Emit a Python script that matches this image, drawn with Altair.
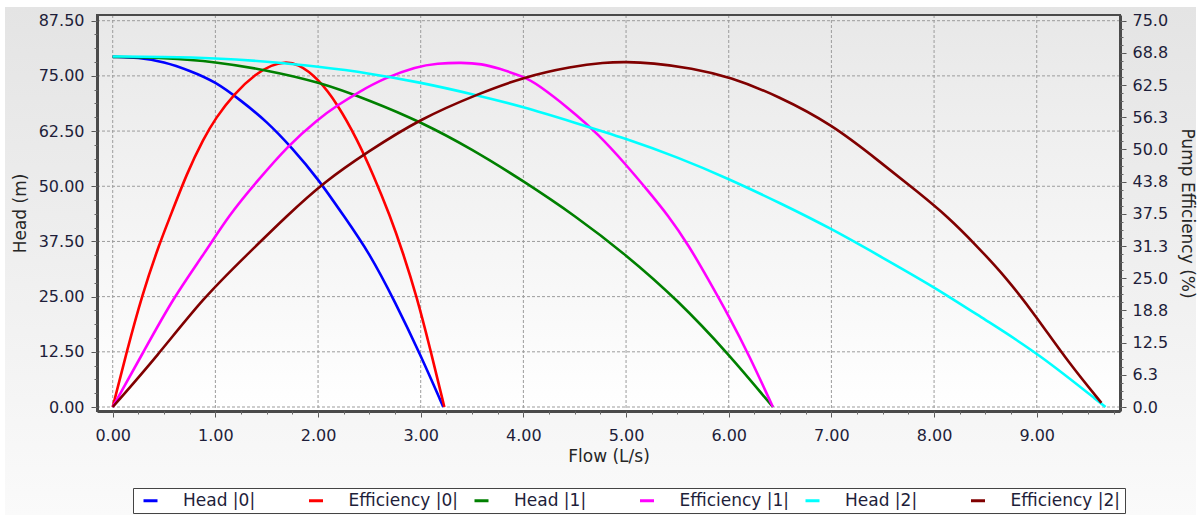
import altair as alt
import pandas as pd

# ---------------- data ----------------
series_names = ["Head |0|", "Efficiency |0|", "Head |1|", "Efficiency |1|", "Head |2|", "Efficiency |2|"]
series_colors = ["#0000ff", "#ff0000", "#008000", "#ff00ff", "#00ffff", "#800000"]

head0_q = [0, 0.25, 0.5, 0.75, 1.0, 1.25, 1.5, 1.75, 2.0, 2.25, 2.5, 2.75, 3.0, 3.22]
head0_h = [79.3, 79.2, 78.2, 76.2, 73.7, 69.4, 64.7, 58.6, 51.7, 43.3, 34.9, 23.8, 11.7, 0.0]

eff0_q = [0, 0.14, 0.285, 0.46, 0.565, 0.72, 0.89, 1.0, 1.18, 1.4, 1.55, 1.67, 1.8, 2.0,
          2.19, 2.38, 2.54, 2.70, 2.83, 2.96, 3.09, 3.23]
eff0_e = [0.0, 11.0, 21.7, 32.0, 37.2, 45.3, 52.3, 56.0, 60.8, 64.8, 66.4, 67.0, 66.7, 63.8,
          58.8, 52.0, 45.0, 37.2, 29.8, 21.5, 11.5, 0.0]

head1_q = [0, 0.5, 1.0, 1.5, 2.0, 2.5, 3.0, 3.5, 4.0, 4.5, 5.0, 5.5, 6.0, 6.43]
head1_h = [79.3, 79.1, 78.2, 76.3, 73.7, 69.5, 64.6, 58.4, 51.2, 43.4, 34.5, 24.3, 12.0, 0.0]

eff1_q = [0, 0.3, 0.59, 0.9, 1.13, 1.4, 1.71, 2.0, 2.19, 2.4, 2.64, 2.96, 3.16, 3.4, 3.6, 3.75,
          4.01, 4.14, 4.43, 4.73, 5.01, 5.2, 5.41, 5.61, 5.8, 6.0, 6.2, 6.43]
eff1_e = [0.0, 10.7, 21.2, 30.0, 37.2, 43.7, 50.8, 55.9, 58.6, 61.2, 63.8, 66.1, 66.7, 66.9, 66.6, 65.8,
          64.1, 62.6, 58.2, 53.0, 46.8, 42.3, 37.2, 31.4, 24.8, 17.7, 10.0, 0.0]

head2_q = [0, 0.5, 1.0, 1.5, 2.0, 2.5, 3.0, 3.5, 4.0, 4.5, 5.0, 5.5, 6.0, 6.5, 7.0, 7.5, 8.0, 8.5, 9.0, 9.67]
head2_h = [79.4, 79.3, 79.0, 78.3, 77.1, 75.6, 73.5, 70.9, 68.0, 64.4, 60.8, 56.6, 51.7, 46.2, 40.4, 33.8,
           27.2, 19.7, 12.4, 0.0]

eff2_q = [0, 0.43, 0.886, 1.3, 1.70, 2.06, 2.48, 3.0, 3.56, 4.01, 4.47, 4.79, 5.0, 5.25, 5.64, 6.01,
          6.48, 7.01, 7.46, 7.85, 8.13, 8.41, 8.7, 8.99, 9.31, 9.63]
eff2_e = [0.0, 9.8, 21.3, 29.4, 37.2, 43.7, 49.5, 56.0, 60.8, 64.1, 66.1, 66.9, 67.0, 66.8, 65.8, 64.1,
          60.4, 54.8, 47.8, 41.6, 37.0, 31.4, 25.2, 17.7, 8.6, 0.8]

# axis ticks
x_major = [0, 1, 2, 3, 4, 5, 6, 7, 8, 9]
x_minor = [k * 0.25 for k in range(40)]
head_major = [0, 12.5, 25, 37.5, 50, 62.5, 75, 87.5]
head_minor = [k * 3.125 for k in range(29)]
eff_major = [k * 6.25 for k in range(13)]
eff_minor = [k * 1.5625 for k in range(49)]

# ---------------- layout / style ----------------
W, H = 1023, 396
X_DOMAIN = [-0.153, 9.811]
H_DOMAIN = [-0.906, 88.79]
E_DOMAIN = [v * 75 / 87.5 for v in H_DOMAIN]
FONT = "DejaVu Sans"
LABEL_COLOR = "#1e1e3a"
TITLE_COLOR = "#262626"

series_data = [
    (series_names[0], head0_q, head0_h, "head"),
    (series_names[1], eff0_q, eff0_e, "eff"),
    (series_names[2], head1_q, head1_h, "head"),
    (series_names[3], eff1_q, eff1_e, "eff"),
    (series_names[4], head2_q, head2_h, "head"),
    (series_names[5], eff2_q, eff2_e, "eff"),
]

def frame(name, q, v):
    return pd.DataFrame({"flow": q, "value": v, "series": [name] * len(q)})

xs = alt.Scale(domain=X_DOMAIN, nice=False, zero=False)
hs = alt.Scale(domain=H_DOMAIN, nice=False, zero=False)
es = alt.Scale(domain=E_DOMAIN, nice=False, zero=False)
color_scale = alt.Scale(domain=series_names, range=series_colors)

legend = alt.Legend(
    title=None, orient="none", legendX=36, legendY=473, direction="horizontal",
    columns=6, gridAlign="all", symbolType="stroke", symbolStrokeWidth=3, symbolSize=196,
    labelFont=FONT, labelFontSize=17, labelColor=LABEL_COLOR, labelOffset=24,
    columnPadding=9.5, padding=4, strokeColor="#444444", fillColor="white", zindex=1,
    symbolOffset=5,
)

x_axis_major = alt.Axis(
    values=x_major, format=".2f", orient="bottom", grid=False, domain=True,
    domainColor="#4a4a4a", domainWidth=3, tickColor="#555555", tickSize=6,
    labelFont=FONT, labelFontSize=16, labelColor=LABEL_COLOR, labelPadding=10,
    labelFlush=False, labelOverlap=False,
    title="Flow (L/s)", titleFont=FONT, titleFontSize=17, titleFontWeight="normal",
    titleColor=TITLE_COLOR, titlePadding=5, zindex=1,
)
y_axis_left = alt.Axis(
    values=head_major, format=".2f", orient="left", grid=False, domain=True,
    domainColor="#4a4a4a", domainWidth=3, tickColor="#555555", tickSize=6,
    labelFont=FONT, labelFontSize=16, labelColor=LABEL_COLOR, labelPadding=7,
    labelOverlap=False,
    title="Head (m)", titleFont=FONT, titleFontSize=17, titleFontWeight="normal",
    titleColor=TITLE_COLOR, titlePadding=9, zindex=1,
)
y_axis_right = alt.Axis(
    values=eff_major, format=".1f", orient="right", grid=False, domain=True,
    domainColor="#4a4a4a", domainWidth=3, tickColor="#555555", tickSize=6,
    labelFont=FONT, labelFontSize=16, labelColor=LABEL_COLOR, labelPadding=6,
    labelOverlap=False,
    title="Pump Efficiency (%)", titleFont=FONT, titleFontSize=17, titleFontWeight="normal",
    titleColor=TITLE_COLOR, titlePadding=10, zindex=1,
)

def minor_axis(vals, orient):
    return alt.Axis(values=vals, orient=orient, labels=False, domain=False, grid=False,
                    tickSize=3, tickColor="#666666", title=None, zindex=1)

dummy = pd.DataFrame({"k": [0]})

outer_fill = {"gradient": "linear", "x1": 0, "y1": 0, "x2": 0, "y2": 1,
              "stops": [{"offset": 0, "color": "#e4e4e4"}, {"offset": 1, "color": "#fafafa"}]}
plot_fill = {"gradient": "linear", "x1": 0, "y1": 0, "x2": 0, "y2": 1,
             "stops": [{"offset": 0, "color": "#e8e8e8"}, {"offset": 1, "color": "#ffffff"}]}

panel = alt.Chart(dummy).mark_rect(fill=outer_fill).encode(
    x=alt.value(-92), x2=alt.value(W + 76), y=alt.value(-8), y2=alt.value(H + 104))
plotbg = alt.Chart(dummy).mark_rect(fill=plot_fill).encode(
    x=alt.value(0), x2=alt.value(W), y=alt.value(0), y2=alt.value(H))

grid_style = dict(color="#9c9c9c", strokeDash=[3, 2], strokeWidth=1)
vgrid = alt.Chart(pd.DataFrame({"flow": x_major})).mark_rule(**grid_style).encode(
    x=alt.X("flow:Q", scale=xs, axis=None))
hgrid = alt.Chart(pd.DataFrame({"value": head_major})).mark_rule(**grid_style).encode(
    y=alt.Y("value:Q", scale=hs, axis=None))

line_layers = []
for i, (name, q, v, kind) in enumerate(series_data):
    df = frame(name, q, v)
    if kind == "head":
        y_enc = alt.Y("value:Q", scale=hs, axis=y_axis_left if i == 0 else None)
    else:
        y_enc = alt.Y("value:Q", scale=es, axis=y_axis_right if i == 1 else None)
    line_layers.append(
        alt.Chart(df).mark_line(strokeWidth=2.6, interpolate="basis").encode(
            x=alt.X("flow:Q", scale=xs, axis=x_axis_major if i == 0 else None),
            y=y_enc,
            color=alt.Color("series:N", scale=color_scale, legend=legend),
        )
    )

minor_left = alt.Chart(frame(series_names[0], head0_q, head0_h)).mark_line(opacity=0).encode(
    x=alt.X("flow:Q", scale=xs, axis=minor_axis(x_minor, "bottom")),
    y=alt.Y("value:Q", scale=hs, axis=minor_axis(head_minor, "left")),
)
minor_right = alt.Chart(frame(series_names[1], eff0_q, eff0_e)).mark_line(opacity=0).encode(
    x=alt.X("flow:Q", scale=xs, axis=None),
    y=alt.Y("value:Q", scale=es, axis=minor_axis(eff_minor, "right")),
)

border = alt.Chart(dummy).mark_rect(fillOpacity=0, stroke="#4a4a4a", strokeWidth=2).encode(
    x=alt.value(0), x2=alt.value(W), y=alt.value(0), y2=alt.value(H))

chart = alt.layer(
    panel, plotbg, vgrid, hgrid, *line_layers, minor_left, minor_right, border
).resolve_scale(
    x="independent", y="independent"
).properties(
    width=W, height=H,
    padding={"left": 97, "top": 15, "right": 81, "bottom": 104},
    autosize=alt.AutoSizeParams(type="none"),
).configure(
    background="white", font=FONT
).configure_view(
    strokeOpacity=0
)

chart.save("out.html", embed_options={"renderer": "svg", "actions": False})
